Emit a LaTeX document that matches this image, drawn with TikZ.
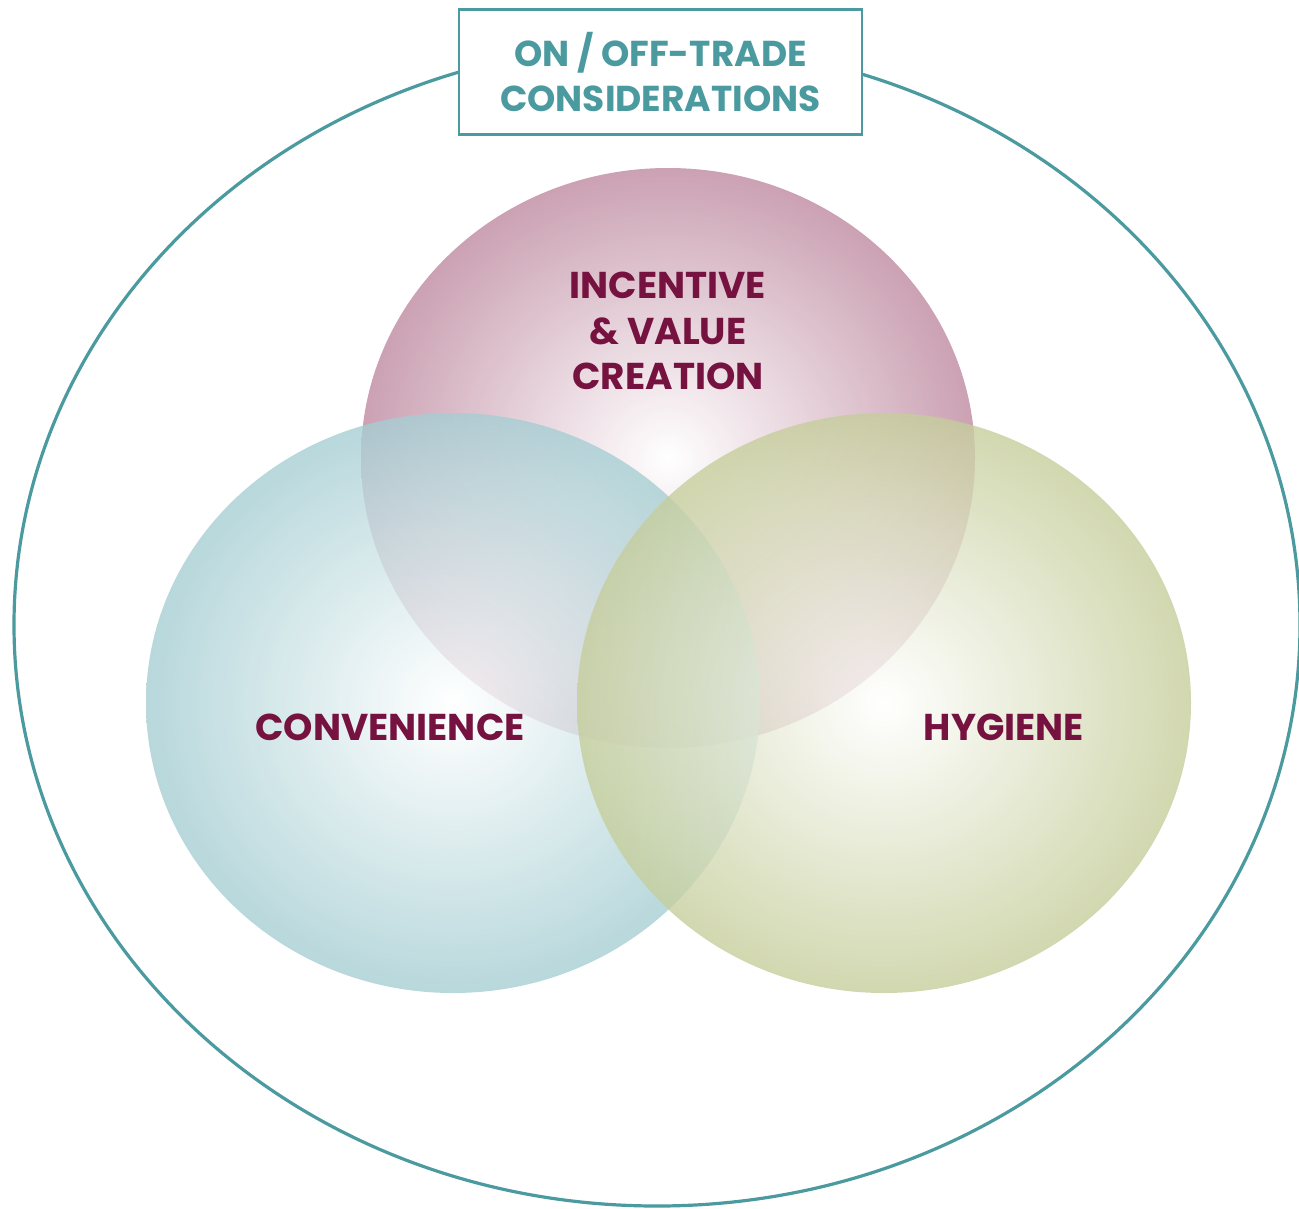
\documentclass[tikz,border=0pt]{standalone}
\usepackage{fontspec}
\setmainfont{Poppins}
\definecolor{trade}{RGB}{74,154,160}
\definecolor{wine}{RGB}{118,18,63}
\definecolor{mauve}{RGB}{190,138,160}
\definecolor{sea}{RGB}{166,206,211}
\definecolor{olive}{RGB}{198,206,156}
\tikzset{
  ball/.style={inner color=white, fill opacity=0.8},
  caption/.style={inner sep=0.75pt, align=center, text=wine, font=\fontsize{28}{34}\selectfont\bfseries}
}
\begin{document}
\begin{tikzpicture}[x=0.75pt,y=0.75pt,yscale=-1,xscale=1]
\useasboundingbox (0,0) rectangle (1299,1208);

%Shape: Ellipse [outer]
\draw [color=trade, line width=2.4] (657,625) ellipse [x radius=643, y radius=581];

%Shape: Circle [top]
\shade [ball, outer color=mauve] (668,458) ellipse [x radius=307, y radius=290];
%Shape: Circle [left]
\shade [ball, outer color=sea] (453,703) ellipse [x radius=307, y radius=290];
%Shape: Circle [right]
\shade [ball, outer color=olive] (884,703) ellipse [x radius=307, y radius=290];

% Text Node
\draw (660.5,72) node [draw=trade, line width=1.9, fill=white, minimum width=302pt, minimum height=94pt, inner sep=0pt, align=center, text=trade, font=\fontsize{27}{34}\selectfont\bfseries] (title) {ON / OFF-TRADE\\CONSIDERATIONS};
% Text Node
\draw (668,331) node [caption] (incentive) {INCENTIVE\\\& VALUE\\CREATION};
% Text Node
\draw (390,727) node [caption] (convenience) {CONVENIENCE};
% Text Node
\draw (1004,727) node [caption] (hygiene) {HYGIENE};

\end{tikzpicture}
\end{document}
